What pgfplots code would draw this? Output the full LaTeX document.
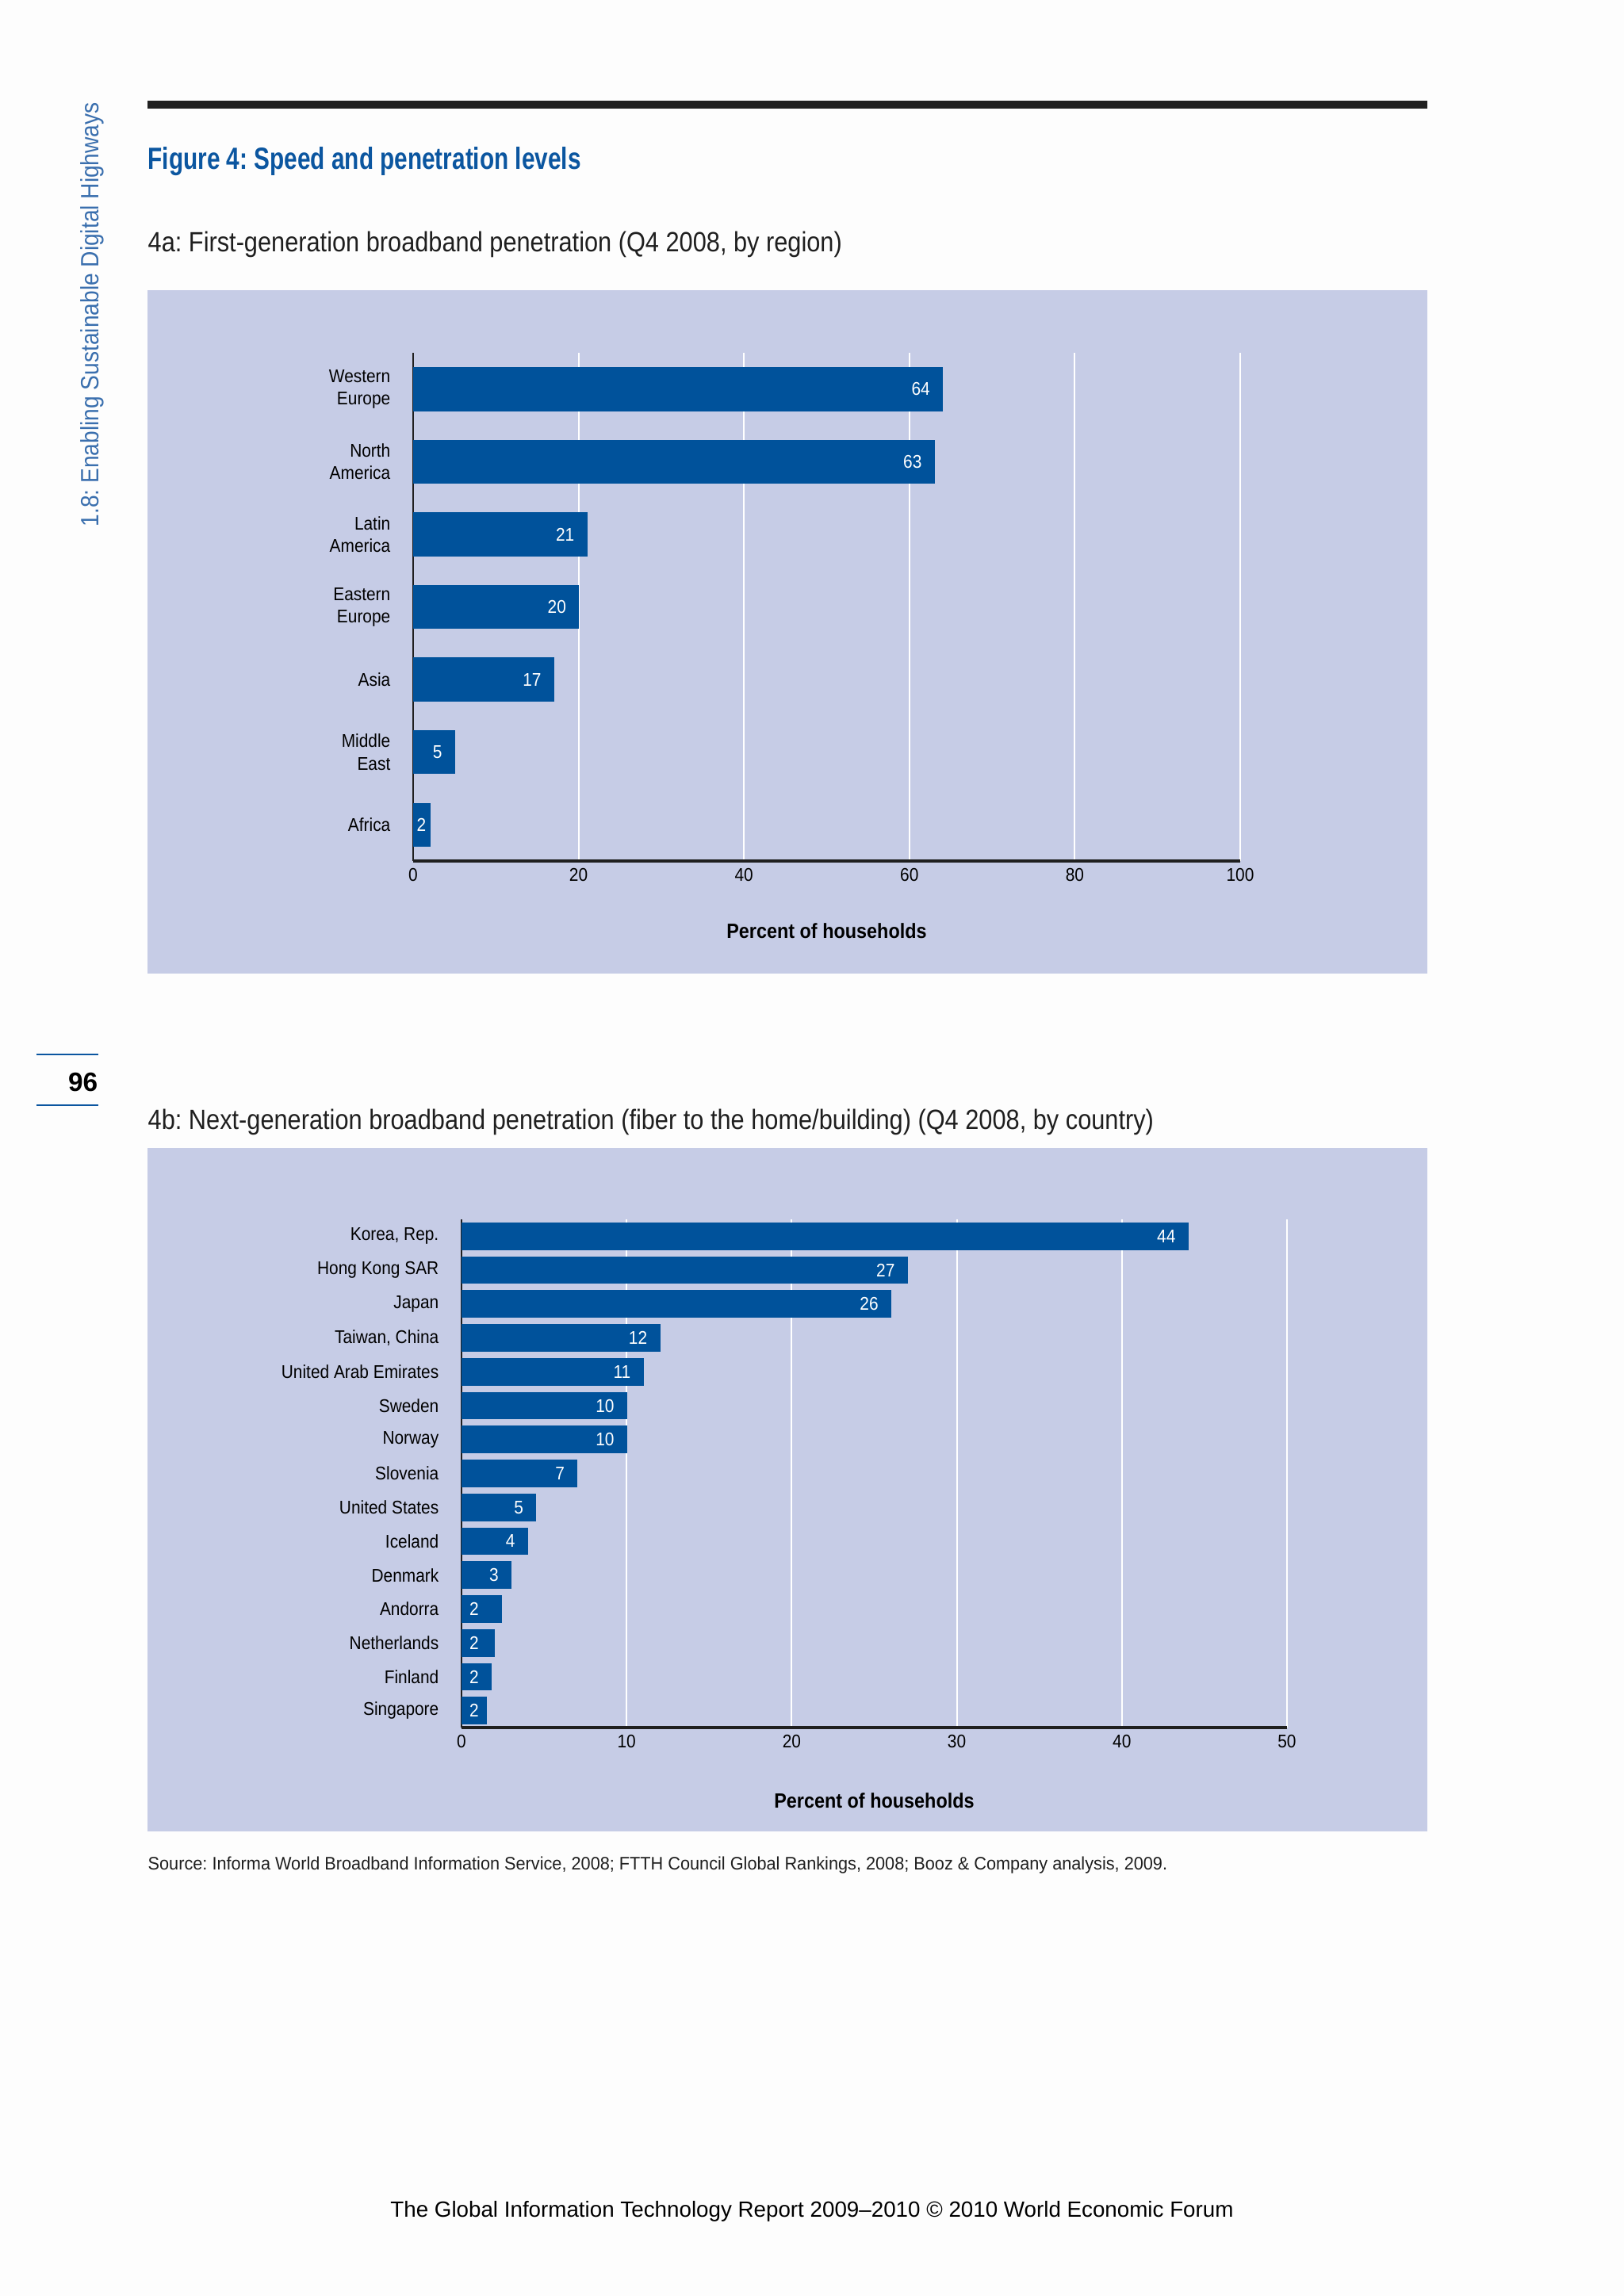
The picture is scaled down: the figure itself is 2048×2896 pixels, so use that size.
\documentclass[border=0pt]{standalone}
\usepackage{fontspec}
\setmainfont{Liberation Sans}
\newfontfamily\condtitle[FakeStretch=0.77]{Liberation Sans}
\newfontfamily\condsub[FakeStretch=0.875]{Liberation Sans}
\newfontfamily\condlab[FakeStretch=0.9]{Liberation Sans}
\newfontfamily\condsrc[FakeStretch=0.95]{Liberation Sans}
\newfontfamily\condside[FakeStretch=0.89]{Liberation Sans}
\usepackage{pgfplots}
\pgfplotsset{compat=1.18}
\frenchspacing

\definecolor{pagebg}{HTML}{FDFDFD}
\definecolor{panel}{HTML}{C6CCE6}
\definecolor{barblue}{HTML}{00529B}
\definecolor{titleblue}{HTML}{0B56A0}
\definecolor{sideblue}{HTML}{3A6FAE}

\newcommand{\lab}{\condlab\fontsize{6.6}{8}\selectfont}
\newcommand{\axlab}{\condlab\bfseries\fontsize{7.4}{9}\selectfont}

\pgfplotsset{
  wef bars/.style={
    scale only axis,
    axis x line*=bottom,
    axis y line*=left,
    axis line style={black!88},
    x axis line style={line width=1.15pt},
    y axis line style={line width=0.7pt},
    xmajorgrids=true,
    grid style={white, line width=0.6pt},
    major tick length=0pt,
    /pgf/number format/assume math mode=true,
    tick label style={font=\lab, inner sep=0pt},
    xticklabel style={yshift=-0.9mm},
    yticklabel style={align=right, xshift=-2.8mm},
    xlabel={Percent of households},
    xlabel style={at={(axis description cs:0.5,0)}, anchor=center, font=\axlab},
  },
  bar labels/.style={
    draw=none, nodes near coords, point meta=explicit symbolic,
    every node near coord/.append style={text=white, font=\lab, inner sep=0pt, #1},
  },
}

% 4a: first-generation broadband, by region (y = 7 at top)
\pgfplotstableread{
y v lab
7 64 64
6 63 63
5 21 21
4 20 20
3 17 17
2 5 5
1 2 2
}\regiondata

% 4b: next-generation broadband, by country (y = 15 at top)
\pgfplotstableread{
y v lab lx
15 44 44 0
14 27 27 0
13 26 26 0
12 12 12 0
11 11 11 0
10 10 10 0
9 10 10 0
8 7 7 0
7 4.5 5 0
6 4 4 0
5 3 3 0
4 2.4 2 0.77
3 2.0 2 0.77
2 1.8 2 0.77
1 1.5 2 0.77
}\countrydata

\begin{document}
\begin{tikzpicture}
\begin{scope}[x=0.1mm, y=-0.1mm]
  \fill[pagebg] (0,0) rectangle (2048,2896);
  \fill[black!87] (186,127) rectangle (1800,137);
  \node[anchor=base west, inner sep=0pt, text=titleblue, font=\condtitle\bfseries\fontsize{11}{13}\selectfont]
    at (186,214) {Figure 4: Speed and penetration levels};
  \node[anchor=base west, inner sep=0pt, text=black!88, font=\condsub\fontsize{10}{12}\selectfont]
    at (186,318) {4a: First-generation broadband penetration (Q4 2008, by region)};
  \fill[panel] (186,366) rectangle (1800,1228);
  \node[anchor=base west, inner sep=0pt, text=black!88, font=\condsub\fontsize{10}{12}\selectfont]
    at (186,1424) {4b: Next-generation broadband penetration (fiber to the home/building) (Q4 2008, by country)};
  \fill[panel] (186,1448) rectangle (1800,2310);
  \node[anchor=base west, inner sep=0pt, text=black!88, font=\condsrc\fontsize{6.5}{7.5}\selectfont]
    at (186,2358) {Source: Informa World Broadband Information Service, 2008; FTTH Council Global Rankings, 2008; Booz \& Company analysis, 2009.};
  \node[anchor=base, inner sep=0pt, text=black, font=\fontsize{7.9}{9.5}\selectfont]
    at (1024,2796) {The Global Information Technology Report 2009–2010 © 2010 World Economic Forum};
  % side tab
  \node[rotate=90, anchor=base west, inner sep=0pt, text=sideblue, font=\condside\fontsize{9}{10}\selectfont]
    at (124,665) {1.8: Enabling Sustainable Digital Highways};
  \draw[titleblue, line width=0.2mm] (46,1330) -- (124,1330);
  \draw[titleblue, line width=0.2mm] (46,1394) -- (124,1394);
  \node[anchor=base east, inner sep=0pt, font=\bfseries\fontsize{9.5}{11}\selectfont]
    at (124,1376) {96};
  \coordinate (A) at (521,1086);
  \coordinate (B) at (582,2179);
\end{scope}

\begin{axis}[
  wef bars,
  at={(A)}, anchor=south west,
  width=104.3mm, height=64.1mm,
  xmin=0, xmax=100, ymin=0.5, ymax=7.5,
  xtick={0,20,...,100},
  ytick={1,...,7},
  yticklabels={Africa, {Middle\\East}, Asia, {Eastern\\Europe}, {Latin\\America}, {North\\America}, {Western\\Europe}},
  xlabel style={yshift=-8.8mm},
]
\addplot[xbar, bar width=0.59, fill=barblue, draw=barblue] table[x=v, y=y] {\regiondata};
\addplot[bar labels={anchor=east, xshift=-1.5mm}] table[x=v, y=y, meta=lab, restrict x to domain=3:100] {\regiondata};
\addplot[bar labels={anchor=center}] coordinates {(1,1) [2]};
\end{axis}

\begin{axis}[
  wef bars,
  at={(B)}, anchor=south west,
  width=104.1mm, height=64.1mm,
  xmin=0, xmax=50, ymin=0.5, ymax=15.5,
  xtick={0,10,...,50},
  ytick={1,...,15},
  yticklabels={Singapore, Finland, Netherlands, Andorra, Denmark, Iceland, United States, Slovenia, Norway, Sweden, United Arab Emirates, {Taiwan, China}, Japan, Hong Kong SAR, {Korea, Rep.}},
  xlabel style={yshift=-9.2mm},
]
\addplot[xbar, bar width=0.78, fill=barblue, draw=barblue] table[x=v, y=y] {\countrydata};
\addplot[bar labels={anchor=east, xshift=-1.5mm}] table[x=v, y=y, meta=lab, restrict x to domain=2.9:100] {\countrydata};
\addplot[bar labels={anchor=center}] table[x=lx, y=y, meta=lab, restrict y to domain=0:4.5] {\countrydata};
\end{axis}
\end{tikzpicture}
\end{document}
